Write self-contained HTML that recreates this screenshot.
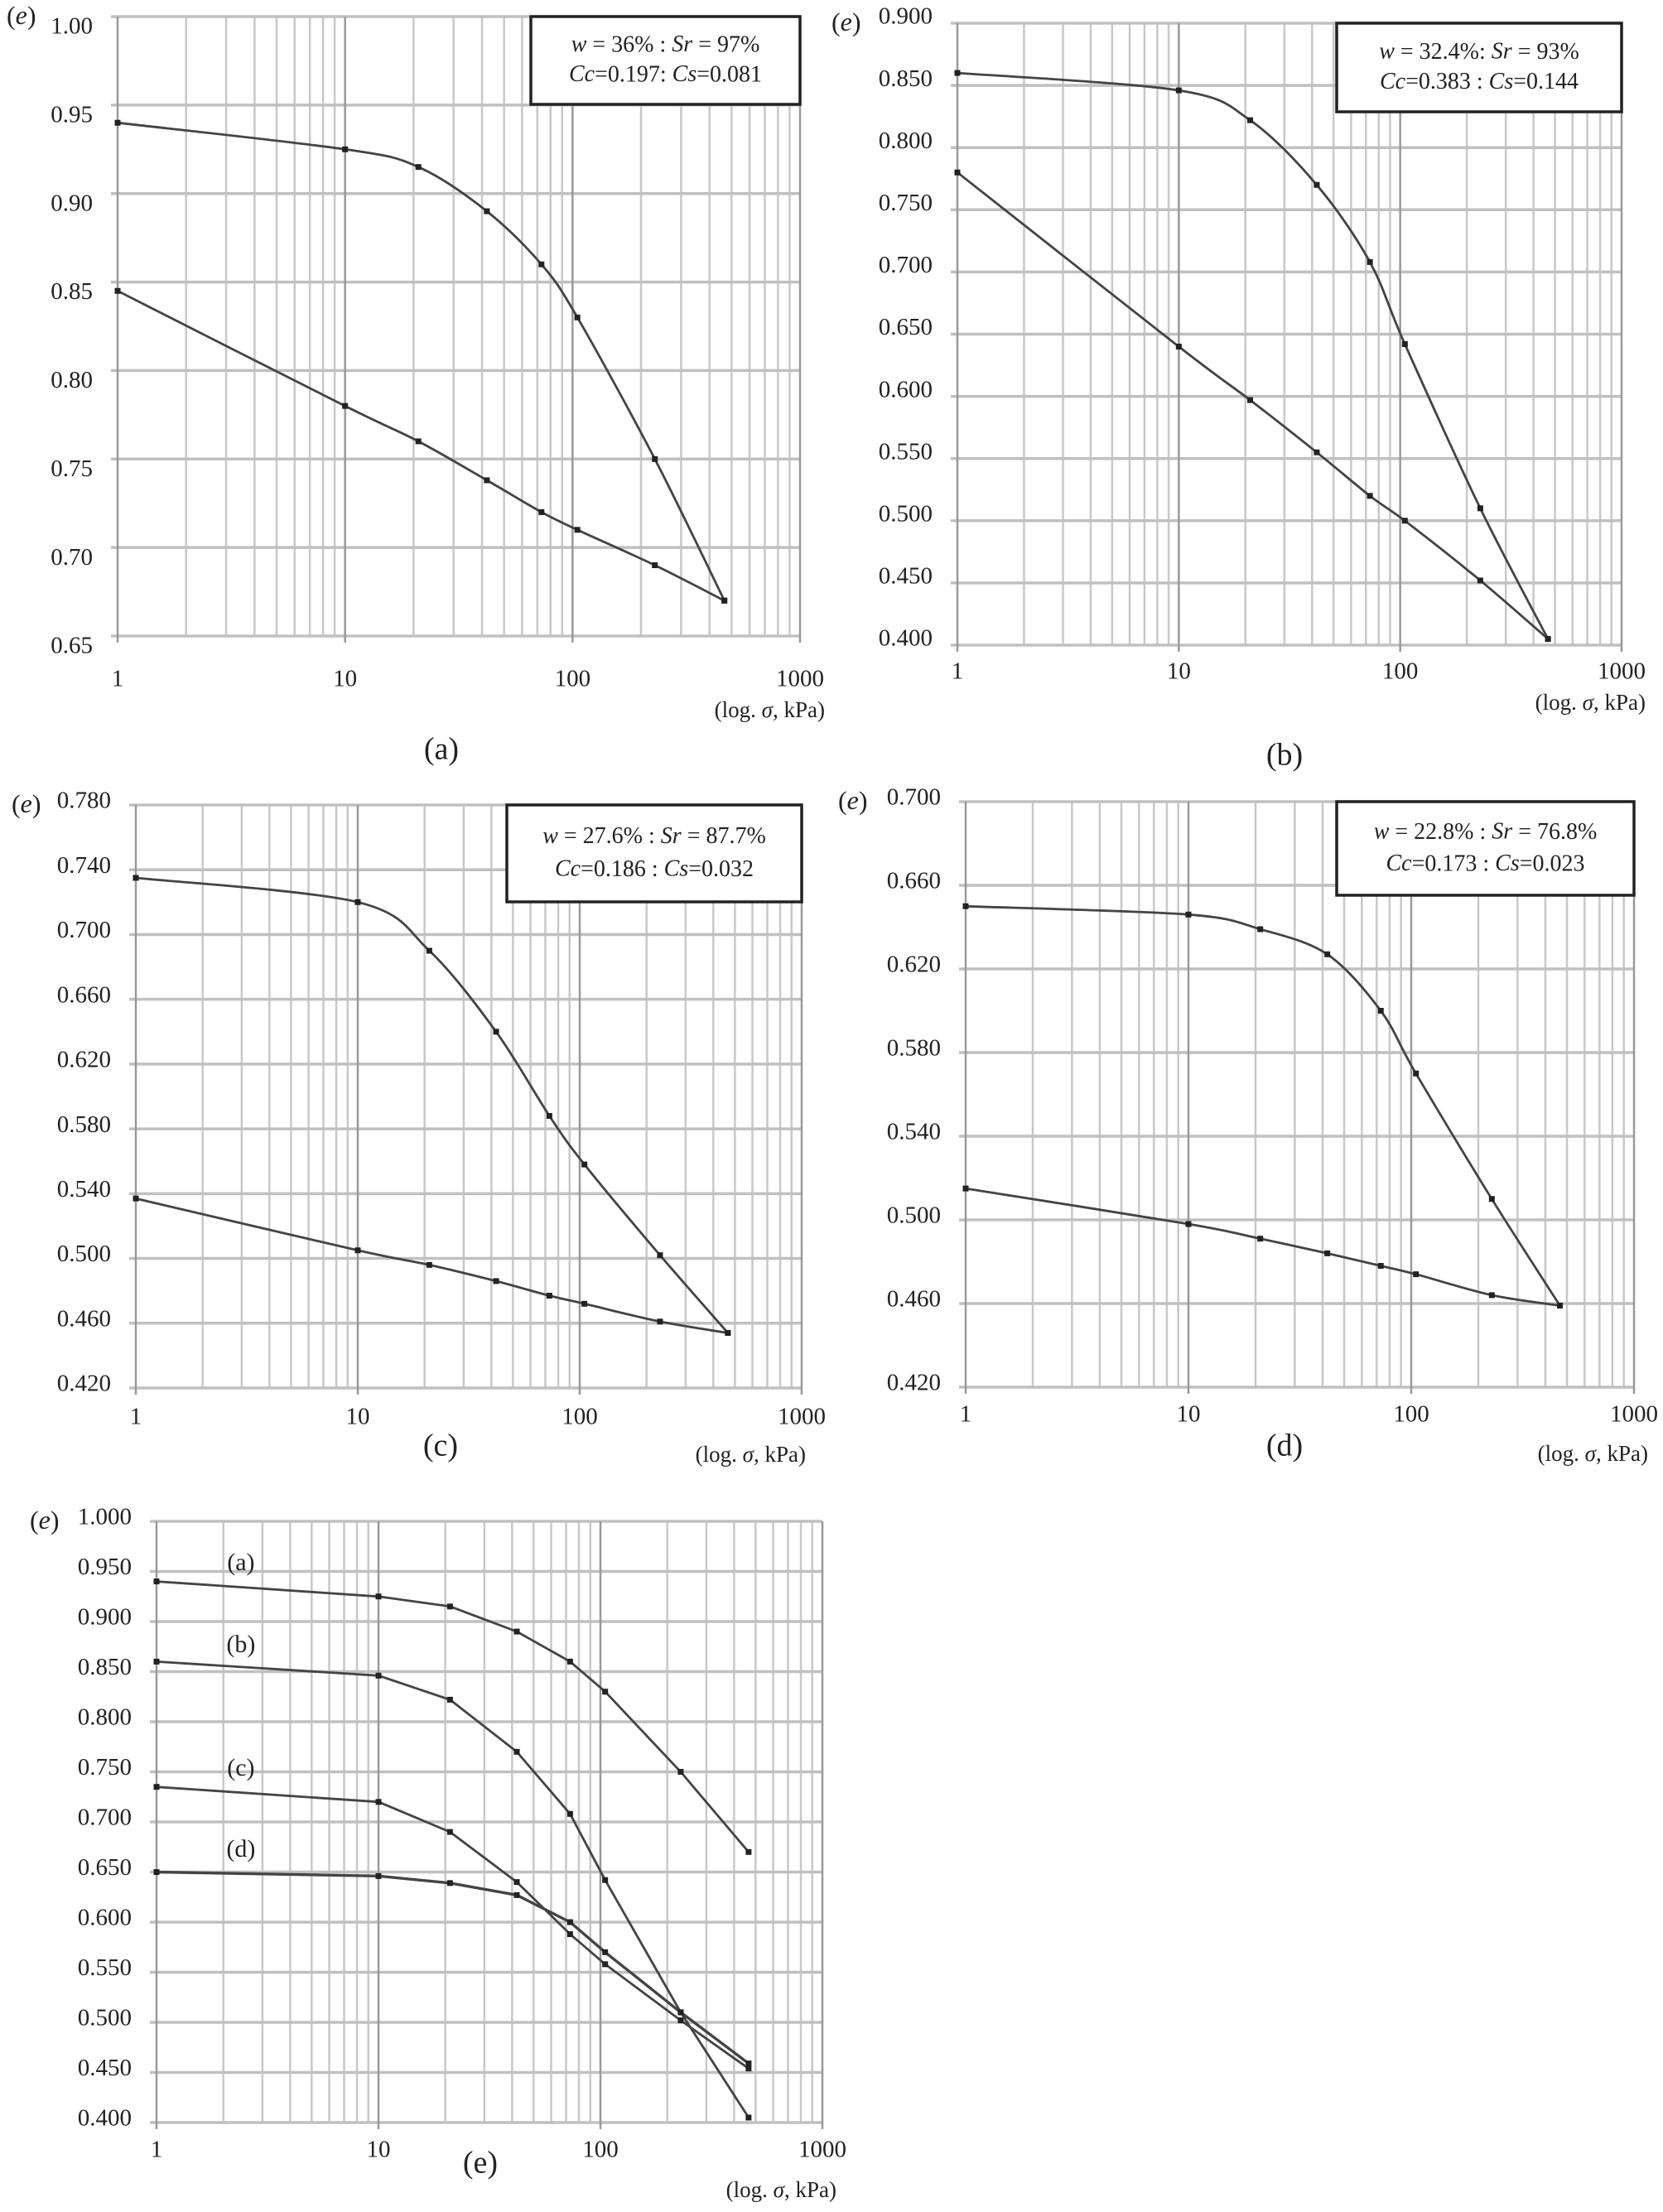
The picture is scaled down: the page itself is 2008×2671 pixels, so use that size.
<!DOCTYPE html>
<html><head><meta charset="utf-8">
<style>
html,body{margin:0;padding:0;background:#fff;}
svg{display:block;}
text{font-family:"Liberation Serif",serif;fill:#222;}
</style></head>
<body>
<svg id="fig" width="2008" height="2671" viewBox="0 0 2008 2671" xmlns="http://www.w3.org/2000/svg"></svg>
<script>
// ---- data ----
const pressureLoad = [1, 10, 21, 42, 73, 105, 230, 465];
const pressureUnload = [1, 10, 21, 42, 73, 105, 230, 465];
const aLoad = [0.940, 0.925, 0.915, 0.890, 0.860, 0.830, 0.750, 0.670];
const aUnload = [0.845, 0.780, 0.760, 0.738, 0.720, 0.710, 0.690, 0.670];
const bLoad = [0.860, 0.846, 0.822, 0.770, 0.708, 0.642, 0.510, 0.405];
const bUnload = [0.780, 0.640, 0.597, 0.555, 0.520, 0.500, 0.452, 0.405];
const cLoad = [0.735, 0.720, 0.690, 0.640, 0.588, 0.558, 0.502, 0.454];
const cUnload = [0.537, 0.505, 0.496, 0.486, 0.477, 0.472, 0.461, 0.454];
const dLoad = [0.650, 0.646, 0.639, 0.627, 0.600, 0.570, 0.510, 0.459];
const dUnload = [0.515, 0.498, 0.491, 0.484, 0.478, 0.474, 0.464, 0.459];
const xTickLabels = ["1", "10", "100", "1000"];
const aTicks = ["0.65","0.70","0.75","0.80","0.85","0.90","0.95","1.00"];
const bTicks = ["0.400","0.450","0.500","0.550","0.600","0.650","0.700","0.750","0.800","0.850","0.900"];
const cTicks = ["0.420","0.460","0.500","0.540","0.580","0.620","0.660","0.700","0.740","0.780"];
const dTicks = ["0.420","0.460","0.500","0.540","0.580","0.620","0.660","0.700"];
const eTicks = ["0.400","0.450","0.500","0.550","0.600","0.650","0.700","0.750","0.800","0.850","0.900","0.950","1.000"];
const eSeriesNames = ["(a)", "(b)", "(c)", "(d)"];

const NS = "http://www.w3.org/2000/svg";
const svg = document.getElementById("fig");
function mk(tag, attrs, parent) {
  const el = document.createElementNS(NS, tag);
  for (const k in attrs) el.setAttribute(k, attrs[k]);
  (parent || svg).appendChild(el);
  return el;
}
function smoothPath(pts) {
  let d = "M" + pts[0][0].toFixed(1) + "," + pts[0][1].toFixed(1);
  for (let i = 0; i < pts.length - 1; i++) {
    const p0 = pts[Math.max(0, i - 1)], p1 = pts[i], p2 = pts[i + 1], p3 = pts[Math.min(pts.length - 1, i + 2)];
    const t = 0.16;
    const c1 = [p1[0] + (p2[0] - p0[0]) * t, p1[1] + (p2[1] - p0[1]) * t];
    const c2 = [p2[0] - (p3[0] - p1[0]) * t, p2[1] - (p3[1] - p1[1]) * t];
    d += " C" + c1.map(v => v.toFixed(1)).join(",") + " " + c2.map(v => v.toFixed(1)).join(",") + " " + p2[0].toFixed(1) + "," + p2[1].toFixed(1);
  }
  return d;
}

function panel(cfg) {
  const g = mk("g", {});
  
  
  const L = cfg.left, R = cfg.right, T = cfg.top, B = cfg.bottom;
  const ymin = parseFloat(cfg.ticks[0]), ymax = parseFloat(cfg.ticks[cfg.ticks.length - 1]);
  const xs = v => L + (Math.log10(v) / 3) * (R - L);
  const ys = v => B - (v - ymin) / (ymax - ymin) * (B - T);
  for (let dec = 1; dec <= 100; dec *= 10) {
    for (let m = 2; m <= 9; m++) {
      const x = xs(dec * m);
      const ln = mk("line", {x1: x, x2: x, y1: T, y2: B, stroke: "#c8c8c8", "stroke-width": 2.5}, g);
      
      
    }
  }
  cfg.ticks.forEach((t, i) => {
    const y = ys(parseFloat(t));
    const ln = mk("line", {x1: L - 8, x2: R, y1: y, y2: y, stroke: "#c0c0c0", "stroke-width": 3.5}, g);
    
    
    const tx = mk("text", {x: L - 30, y: y + cfg.tickDy, "text-anchor": "end", "font-size": 29, "dominant-baseline": "middle"}, g);
    tx.textContent = t;
    
    
  });
  xTickLabels.forEach((lab, i) => {
    const x = xs(parseFloat(lab));
    const ln = mk("line", {x1: x, x2: x, y1: T, y2: B + 8, stroke: "#999", "stroke-width": 2.5}, g);
    
    
    const tx = mk("text", {x: x, y: B + cfg.xlabDy, "text-anchor": "middle", "font-size": 29, "dominant-baseline": "middle"}, g);
    tx.textContent = lab;
    
    
  });
  const et = mk("text", {x: cfg.eX, y: T + 2, "font-size": 32, "dominant-baseline": "middle"}, g);
  et.innerHTML = '(<tspan font-style="italic">e</tspan>)';
  
  
  const xt = mk("text", {x: cfg.logX, y: B + cfg.logDy, "text-anchor": "end", "font-size": 27, "dominant-baseline": "middle"}, g);
  xt.innerHTML = '(log. <tspan font-style="italic">σ</tspan>, kPa)';
  
  
  const cap = mk("text", {x: cfg.capX, y: cfg.capY, "text-anchor": "middle", "font-size": 38, "dominant-baseline": "middle"}, g);
  cap.textContent = cfg.caption;
  
  
  cfg.series.forEach((s, si) => {
    const pts = s.x.map((xv, i) => [xs(xv), ys(s.y[i])]);
    const d = cfg.smooth ? smoothPath(pts) : "M" + pts.map(p => p[0].toFixed(1) + "," + p[1].toFixed(1)).join(" L");
    const p = mk("path", {d: d, fill: "none", stroke: "#444", "stroke-width": s.w || 2.8}, g);
    
    
    pts.forEach(pt => {
      const r = mk("rect", {x: pt[0] - 3.5, y: pt[1] - 3.5, width: 7, height: 7, fill: "#222"}, g);
      
      
    });
    if (s.label) {
      const lt = mk("text", {x: xs(2.4), y: ys(s.labelY), "text-anchor": "middle", "font-size": 30, "dominant-baseline": "middle"}, g);
      lt.textContent = s.label;
      
      
    }
  });
  if (cfg.legend) {
    const lg = cfg.legend;
    const bx = mk("rect", {x: lg.x, y: lg.y, width: lg.w, height: lg.h, fill: "#fff", stroke: "#222", "stroke-width": 3.5}, g);
    
    
    lg.lines.forEach((ln, i) => {
      const t = mk("text", {x: lg.x + lg.w / 2, y: lg.y + lg.h * (i === 0 ? 0.34 : 0.68), "text-anchor": "middle", "font-size": 28, "dominant-baseline": "middle"}, g);
      t.innerHTML = ln;
      
      
    });
  }
}

const I = s => '<tspan font-style="italic">' + s + '</tspan>';

panel({name: "panel-a", left: 142, right: 966, top: 20, bottom: 768, ticks: aTicks, tickDy: 14,
  xlabDy: 54, eX: 8, logX: 996, logDy: 92, capX: 533, capY: 908, caption: "(a)", smooth: true,
  series: [{name: "loading-curve", x: pressureLoad, y: aLoad}, {name: "unloading-curve", x: pressureUnload, y: aUnload}],
  legend: {x: 641, y: 20, w: 325, h: 106, lines: [I("w") + " = 36%  : " + I("Sr") + " = 97%", I("Cc") + "=0.197: " + I("Cs") + "=0.081"]}});

panel({name: "panel-b", left: 1156, right: 1958, top: 28, bottom: 779, ticks: bTicks, tickDy: -6,
  xlabDy: 34, eX: 1004, logX: 1987, logDy: 72, capX: 1551, capY: 915, caption: "(b)", smooth: true,
  series: [{name: "loading-curve", x: pressureLoad, y: bLoad}, {name: "unloading-curve", x: pressureUnload, y: bUnload}],
  legend: {x: 1614, y: 28, w: 344, h: 107, lines: [I("w") + " = 32.4%: " + I("Sr") + " = 93%", I("Cc") + "=0.383  :  " + I("Cs") + "=0.144"]}});

panel({name: "panel-c", left: 164, right: 968, top: 972, bottom: 1676, ticks: cTicks, tickDy: -3,
  xlabDy: 37, eX: 14, logX: 973, logDy: 83, capX: 532, capY: 1749, caption: "(c)", smooth: true,
  series: [{name: "loading-curve", x: pressureLoad, y: cLoad}, {name: "unloading-curve", x: pressureUnload, y: cUnload}],
  legend: {x: 612, y: 972, w: 356, h: 117, lines: [I("w") + " = 27.6% : " + I("Sr") + " = 87.7%", I("Cc") + "=0.186 : " + I("Cs") + "=0.032"]}});

panel({name: "panel-d", left: 1166, right: 1973, top: 968, bottom: 1675, ticks: dTicks, tickDy: -3,
  xlabDy: 35, eX: 1012, logX: 1990, logDy: 83, capX: 1551, capY: 1749, caption: "(d)", smooth: true,
  series: [{name: "loading-curve", x: pressureLoad, y: dLoad}, {name: "unloading-curve", x: pressureUnload, y: dUnload}],
  legend: {x: 1614, y: 968, w: 359, h: 113, lines: [I("w") + " = 22.8% : " + I("Sr") + " = 76.8%", I("Cc") + "=0.173 : " + I("Cs") + "=0.023"]}});

panel({name: "panel-e", left: 189, right: 993, top: 1837, bottom: 2563, ticks: eTicks, tickDy: -3,
  xlabDy: 35, eX: 36, logX: 1010, logDy: 84, capX: 580, capY: 2615, caption: "(e)", smooth: false,
  series: [
    {name: "curve-a", x: pressureLoad, y: aLoad, label: eSeriesNames[0], labelY: 0.957},
    {name: "curve-b", x: pressureLoad, y: bLoad, label: eSeriesNames[1], labelY: 0.875},
    {name: "curve-c", x: pressureLoad, y: cLoad, label: eSeriesNames[2], labelY: 0.752},
    {name: "curve-d", x: pressureLoad, y: dLoad, label: eSeriesNames[3], labelY: 0.671, w: 3.4}
  ]});
</script>
</body></html>
